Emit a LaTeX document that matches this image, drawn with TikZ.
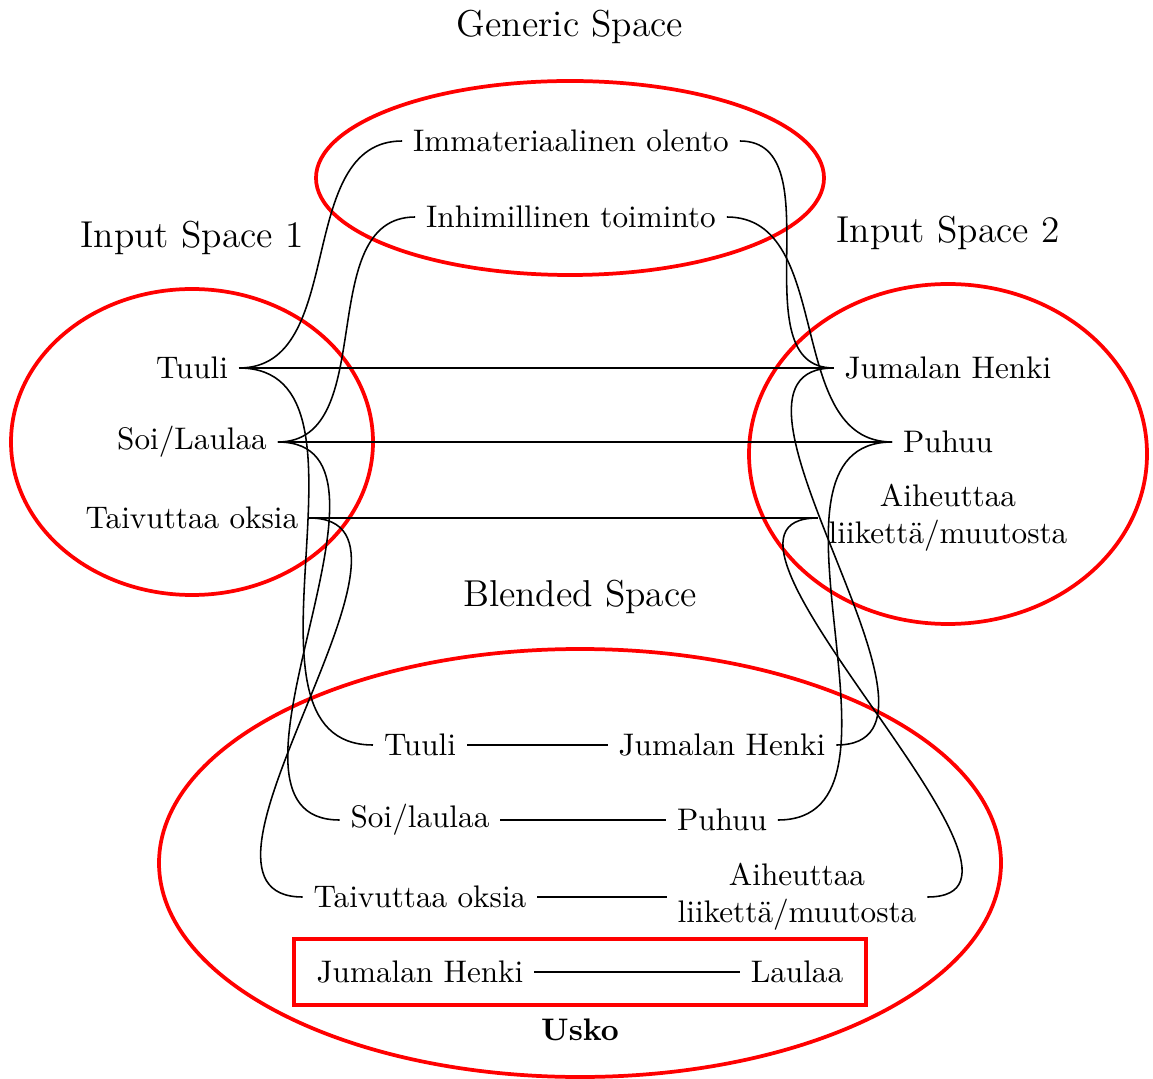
\documentclass[tikz,border=0pt]{standalone}
\usetikzlibrary{positioning}
\begin{document}
\begin{tikzpicture}[x=0.3205pt,y=-0.3205pt,
  space/.style={draw=red,very thick},
  title/.style={font=\large},
  item/.style={align=center},
  link/.style={black,line width=0.5pt},
  rightward/.style={out=0,in=180},
  leftward/.style={out=180,in=0}]
\useasboundingbox (0,0) rectangle (1153,1079);

% the four spaces
\draw[space] (570,178) ellipse [x radius=254, y radius=97];
\draw[space] (192,442) ellipse [x radius=181, y radius=153];
\draw[space] (948,454) ellipse [x radius=199, y radius=170];
\draw[space] (580,863) ellipse [x radius=421, y radius=214];

\node[title] (tg) at (570,27) {Generic Space};
\node[title] (t1) at (192,238) {Input Space 1};
\node[title] (t2) at (948,233) {Input Space 2};
\node[title] (tb) at (580,597) {Blended Space};

% generic space
\node[item] (g1) at (571,141) {Immateriaalinen olento};
\node[item] (g2) at (571,217) {Inhimillinen toiminto};

% input space 1
\node[item] (a1) at (192,368) {Tuuli};
\node[item] (a2) at (192,442) {Soi/Laulaa};
\node[item] (a3) at (192,518) {Taivuttaa oksia};

% input space 2
\node[item] (b1) at (948,368) {Jumalan Henki};
\node[item] (b2) at (948,442) {Puhuu};
\node[item] (b3) at (948,518) {Aiheuttaa\\liikettä/muutosta};

% blended space
\node[item] (c1) at (420,745) {Tuuli};
\node[item] (d1) at (722,745) {Jumalan Henki};
\node[item] (c2) at (420,820) {Soi/laulaa};
\node[item] (d2) at (722,820) {Puhuu};
\node[item] (c3) at (420,897) {Taivuttaa oksia};
\node[item] (d3) at (797,897) {Aiheuttaa\\liikettä/muutosta};
\node[item] (e1) at (420,972) {Jumalan Henki};
\node[item] (e2) at (797,972) {Laulaa};
\draw[space] (294,939) rectangle (866,1005);
\node[font=\bfseries] (usko) at (580,1030) {Usko};

% cross-space mappings
\draw[link] (a1.east) -- (b1.west);
\draw[link] (a2.east) -- (b2.west);
\draw[link] (a3.east) -- (b3.west);

\draw[link] (a1.east) to[rightward] (g1.west);
\draw[link] (a2.east) to[rightward] (g2.west);
\draw[link] (g1.east) to[rightward] (b1.west);
\draw[link] (g2.east) to[rightward] (b2.west);

% projections into the blend
\draw[link] (a1.east) to[rightward] (c1.west);
\draw[link] (a2.east) to[rightward] (c2.west);
\draw[link] (a3.east) to[rightward] (c3.west);
\draw[link] (b1.west) to[leftward] (d1.east);
\draw[link] (b2.west) to[leftward] (d2.east);
\draw[link] (b3.west) to[leftward] (d3.east);

% links inside the blend
\draw[link] (c1.east) -- (d1.west);
\draw[link] (c2.east) -- (d2.west);
\draw[link] (c3.east) -- (d3.west);
\draw[link] (e1.east) -- (e2.west);
\end{tikzpicture}
\end{document}
